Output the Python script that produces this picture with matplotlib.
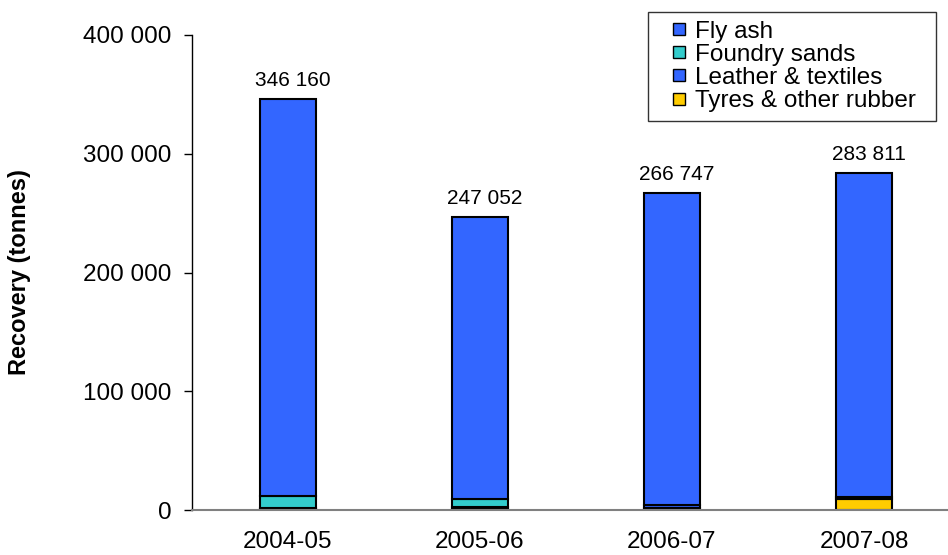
import matplotlib.pyplot as plt
from matplotlib.lines import Line2D
import numpy as np

plt.rcParams['font.family'] = ['Liberation Sans', 'DejaVu Sans']

years = ['2004-05', '2005-06', '2006-07', '2007-08']
totals = [346160, 247052, 266747, 283811]
tyres = [1200, 1200, 2000, 9500]
leather = [800, 1500, 2000, 1500]
foundry = [10000, 6500, 0, 0]
fly_ash = [t - a - b - c for t, a, b, c in zip(totals, tyres, leather, foundry)]
total_labels = ['346 160', '247 052', '266 747', '283 811']

blue = '#3366ff'
teal = '#33cccc'
yellow = '#ffcc00'

fig = plt.figure(figsize=(9.48, 5.55), dpi=100)
ax = fig.add_axes([0.2025, 0.081, 0.8, 0.856])

x = np.arange(len(years))
w = 0.29
kw = dict(width=w, edgecolor='black', linewidth=1.5)
ax.bar(x, tyres, color=yellow, **kw)
ax.bar(x, leather, bottom=tyres, color=blue, **kw)
bot2 = np.array(tyres) + np.array(leather)
ax.bar(x, foundry, bottom=bot2, color=teal, **kw)
bot3 = bot2 + np.array(foundry)
ax.bar(x, fly_ash, bottom=bot3, color=blue, **kw)

for xi, t, lab in zip(x, totals, total_labels):
    ax.text(xi + 0.025, t + 7500, lab, ha='center', va='bottom', fontsize=15)

ax.set_ylim(0, 400000)
ax.set_xlim(-0.5, 3.45)
ax.set_yticks([0, 100000, 200000, 300000, 400000])
ax.set_yticklabels(['0', '100 000', '200 000', '300 000', '400 000'], fontsize=17.5)
ax.set_xticks(x)
ax.set_xticklabels(years, fontsize=17.5)
ax.tick_params(axis='x', length=0, pad=15)
ax.tick_params(axis='y', length=6, width=1, color='black', pad=8.5)
for s in ['top', 'right']:
    ax.spines[s].set_visible(False)
ax.spines['left'].set_color('black')
ax.spines['left'].set_linewidth(1)
ax.spines['bottom'].set_color('#808080')
ax.spines['bottom'].set_linewidth(1.5)
ax.set_ylabel('Recovery (tonnes)', fontsize=17, fontweight='bold', labelpad=38)

names = ['Fly ash', 'Foundry sands', 'Leather & textiles', 'Tyres & other rubber']
cols = [blue, teal, blue, yellow]
handles = [Line2D([], [], ls='none', marker='s', markersize=9, markerfacecolor=c,
                  markeredgecolor='black', markeredgewidth=1) for c in cols]
top = 1 - 12 / 555
leg = fig.legend(handles, names,
                 loc='upper left', mode='expand',
                 bbox_to_anchor=(648 / 948, 0.5, 288 / 948, top - 0.5),
                 fontsize=17.5, frameon=True, fancybox=False, edgecolor='black',
                 handlelength=1.85, handletextpad=-0.27,
                 labelspacing=0.05, borderpad=0.35, borderaxespad=0)
leg.get_frame().set_linewidth(1.0)

fig.savefig('out.png', dpi=100)
